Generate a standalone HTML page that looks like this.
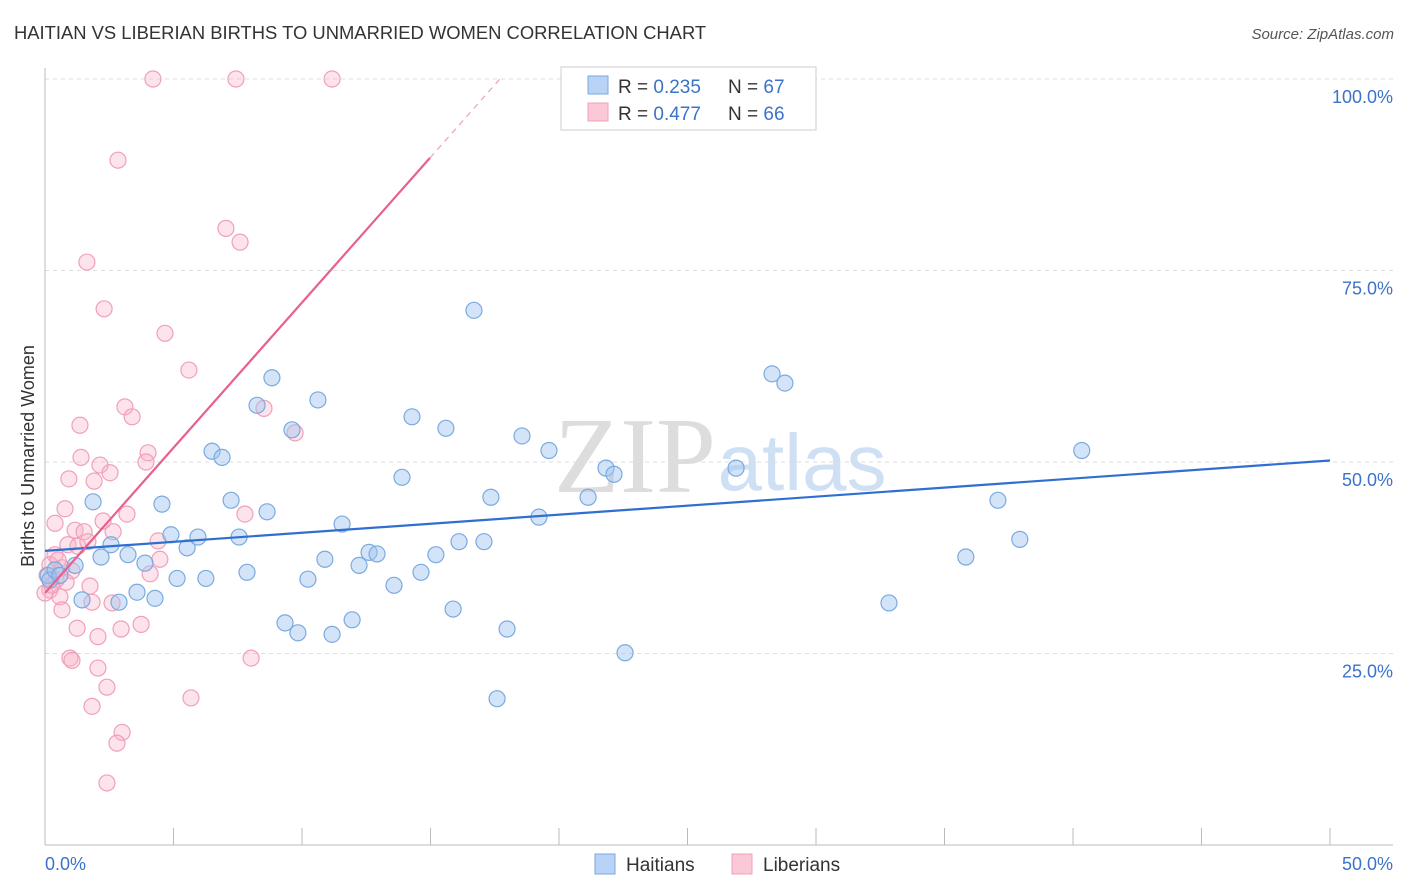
<!DOCTYPE html>
<html><head><meta charset="utf-8"><style>
body{margin:0;background:#fff;font-family:"Liberation Sans",sans-serif;}
svg{display:block}
</style></head><body>
<svg id="chart" width="1406" height="892" xmlns="http://www.w3.org/2000/svg">
<text x="14" y="39" font-size="18.4" fill="#333">HAITIAN VS LIBERIAN BIRTHS TO UNMARRIED WOMEN CORRELATION CHART</text>
<text x="1394" y="39" font-size="15" fill="#555" font-style="italic" text-anchor="end">Source: ZipAtlas.com</text>
<g><text x="635" y="492" font-size="108" fill="#ddd" font-family="Liberation Serif,serif" text-anchor="middle">ZIP</text><text x="802" y="490" font-size="80" fill="#cfe0f4" text-anchor="middle">atlas</text></g>
<g id="grid"></g>
<g id="axes"></g>
<text transform="translate(34,456) rotate(-90)" font-size="18" fill="#333" text-anchor="middle">Births to Unmarried Women</text>
<g id="pts"></g>
<g id="trend"></g>
<g>
<rect x="561" y="67" width="255" height="63" fill="#fff" stroke="#ccc"/>
<rect x="588" y="76" width="20" height="18" fill="#b8d3f5" stroke="#7aaae0"/>
<rect x="588" y="103" width="20" height="18" fill="#fbc8d8" stroke="#f0a0b8"/>
<text x="618" y="93" font-size="19" fill="#333">R = <tspan fill="#3b73c9">0.235</tspan><tspan x="728">N = </tspan><tspan fill="#3b73c9">67</tspan></text>
<text x="618" y="120" font-size="19" fill="#333">R = <tspan fill="#3b73c9">0.477</tspan><tspan x="728">N = </tspan><tspan fill="#3b73c9">66</tspan></text>
</g>
<g>
<rect x="595" y="854" width="20" height="20" fill="#b8d3f5" stroke="#7aaae0"/>
<text x="626" y="871" font-size="19" fill="#333">Haitians</text>
<rect x="732" y="854" width="20" height="20" fill="#fbc8d8" stroke="#f0a0b8"/>
<text x="763" y="871" font-size="19" fill="#333">Liberians</text>
</g>
</svg>
<script>
const blueX=[0.12,0.19,0.39,0.58,1.17,1.44,1.87,2.18,2.57,2.88,3.23,3.58,3.89,4.28,4.55,4.90,5.14,5.53,5.95,6.26,6.50,6.89,7.24,7.55,7.86,8.64,8.83,8.25,9.34,9.61,9.84,10.23,10.62,10.89,11.17,11.56,11.95,12.22,12.61,12.92,13.58,13.89,14.28,14.63,15.21,15.60,15.88,16.11,16.69,17.08,17.35,17.59,17.98,18.56,19.22,19.61,21.13,21.83,22.14,22.57,26.89,28.29,28.79,32.84,35.83,37.08,37.93,40.34];
const blueY=[35.2,34.6,35.9,35.2,36.5,32.0,44.8,37.6,39.2,31.7,37.9,33.0,36.8,32.2,44.5,40.5,34.8,38.8,40.2,34.8,51.4,50.6,45.0,40.2,35.6,43.5,61.0,57.4,29.0,54.2,27.7,34.7,58.1,37.3,27.5,41.9,29.4,36.5,38.2,38.0,33.9,48.0,55.9,35.6,37.9,54.4,30.8,39.6,69.8,39.6,45.4,19.1,28.2,53.4,42.8,51.5,45.4,49.2,48.4,25.1,49.2,61.5,60.3,31.6,37.6,45.0,39.9,51.5];
const pinkX=[4.20,7.43,11.17,2.84,7.04,7.59,1.63,2.30,4.67,5.60,3.11,3.39,1.36,8.52,9.73,4.01,3.93,1.40,2.14,2.53,0.93,1.91,0.78,3.19,7.78,2.26,0.39,1.17,1.52,2.65,4.40,0.89,1.28,1.67,0.39,4.47,0.19,0.66,1.05,4.09,0.43,1.75,0.82,0.19,0.58,1.83,2.61,0.66,1.25,2.96,3.74,2.06,0.97,1.05,8.02,2.06,2.41,5.68,1.83,3.00,2.80,2.41,0.0,0.27,0.51,0.08];
const pinkY=[100,100,100,89.4,80.5,78.7,76.1,70.0,66.8,62.0,57.2,55.9,54.8,57.0,53.8,51.2,50.0,50.6,49.6,48.6,47.8,47.5,43.9,43.2,43.2,42.3,42.0,41.1,40.9,40.9,39.7,39.2,39.0,39.6,37.9,37.3,36.6,36.2,35.8,35.4,34.6,33.8,34.3,33.3,32.4,31.7,31.6,30.7,28.3,28.2,28.8,27.2,24.4,24.1,24.4,23.1,20.6,19.2,18.1,14.7,13.3,8.1,32.9,33.9,37.2,35.2];
const yTicks=[25,50,75,100];
const yTickLabels=["25.0%","50.0%","75.0%","100.0%"];
const blueTrend=[[0,38.4],[50,50.2]];
const pinkTrend=[[0,32.9],[14.98,89.7]];
const pinkTrendExt=[[14.98,89.7],[17.7,100]];
const NS="http://www.w3.org/2000/svg";
const sx=v=>45+v/50*1285, sy=v=>845-v/100*766;
function mk(t,a,p){const e=document.createElementNS(NS,t);for(const k in a)e.setAttribute(k,a[k]);p.appendChild(e);return e;}
const grid=document.getElementById('grid'),axes=document.getElementById('axes');
yTicks.forEach((t,i)=>{
 const l=mk('line',{x1:45,x2:1393,y1:sy(t),y2:sy(t),stroke:'#ddd','stroke-dasharray':'4,4'},grid);
 
 
 const tx=mk('text',{x:1393,y:sy(t)+24,'font-size':18,fill:'#3b73c9','text-anchor':'end'},axes);
 tx.textContent=yTickLabels[i];
 
 
});
let a=mk('line',{x1:45,x2:45,y1:68,y2:845,stroke:'#bbb'},axes);


a=mk('line',{x1:45,x2:1393,y1:845,y2:845,stroke:'#bbb'},axes);


for(let i=0;i<=10;i++){const t=mk('line',{x1:sx(i*5),x2:sx(i*5),y1:828,y2:845,stroke:'#bbb'},axes);
 
 }
let t1=mk('text',{x:45,y:870,'font-size':18,fill:'#3b73c9'},axes);t1.textContent='0.0%';


t1=mk('text',{x:1393,y:870,'font-size':18,fill:'#3b73c9','text-anchor':'end'},axes);t1.textContent='50.0%';


const pts=document.getElementById('pts');
pinkX.forEach((x,i)=>{const c=mk('circle',{cx:sx(x),cy:sy(pinkY[i]),r:8,fill:'rgba(248,175,198,0.35)',stroke:'#f0a0b8','stroke-width':1.2},pts);
 
 });
blueX.forEach((x,i)=>{const c=mk('circle',{cx:sx(x),cy:sy(blueY[i]),r:8,fill:'rgba(160,196,240,0.45)',stroke:'#7aaae0','stroke-width':1.2},pts);
 
 });
const tr=document.getElementById('trend');
let l=mk('line',{x1:sx(blueTrend[0][0]),y1:sy(blueTrend[0][1]),x2:sx(blueTrend[1][0]),y2:sy(blueTrend[1][1]),stroke:'#2f6fd0','stroke-width':2.2},tr);


l=mk('line',{x1:sx(pinkTrend[0][0]),y1:sy(pinkTrend[0][1]),x2:sx(pinkTrend[1][0]),y2:sy(pinkTrend[1][1]),stroke:'#e8608c','stroke-width':2.2},tr);


l=mk('line',{x1:sx(pinkTrendExt[0][0]),y1:sy(pinkTrendExt[0][1]),x2:sx(pinkTrendExt[1][0]),y2:sy(pinkTrendExt[1][1]),stroke:'#f0a0b8','stroke-width':1.2,'stroke-dasharray':'6,5'},tr);


</script>
</body></html>
